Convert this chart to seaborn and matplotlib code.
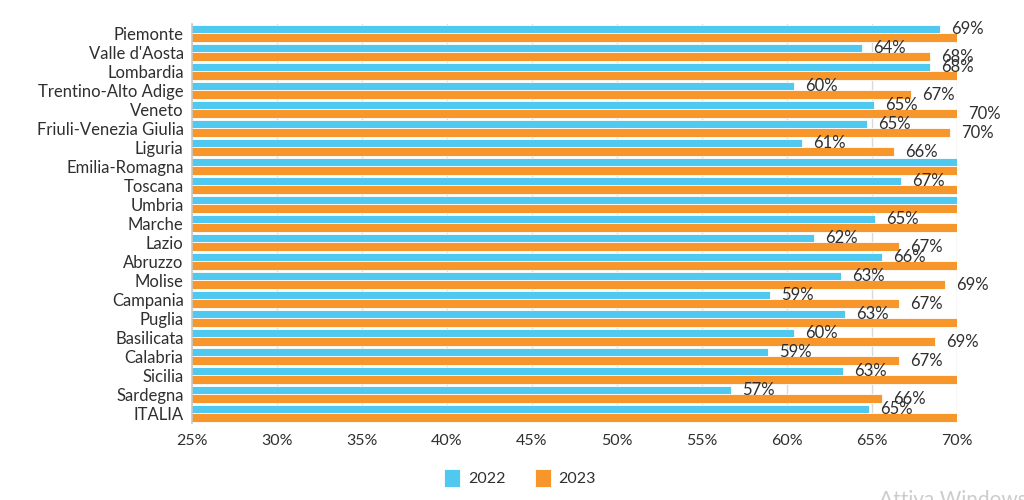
import matplotlib
matplotlib.use("Agg")
import matplotlib.pyplot as plt
import seaborn as sns
import pandas as pd

regions = ["Piemonte", "Valle d'Aosta", "Lombardia", "Trentino-Alto Adige", "Veneto",
           "Friuli-Venezia Giulia", "Liguria", "Emilia-Romagna", "Toscana", "Umbria",
           "Marche", "Lazio", "Abruzzo", "Molise", "Campania", "Puglia", "Basilicata",
           "Calabria", "Sicilia", "Sardegna", "ITALIA"]
values_2022 = [69.0, 64.4, 68.4, 60.4, 65.1, 64.7, 60.9, 72.0, 66.7, 71.0,
               65.2, 61.6, 65.6, 63.2, 59.0, 63.4, 60.4, 58.9, 63.3, 56.7, 64.8]
values_2023 = [72.5, 68.4, 73.8, 67.3, 70.0, 69.6, 66.3, 75.0, 72.7, 73.1,
               71.9, 66.6, 71.4, 69.3, 66.6, 71.6, 68.7, 66.6, 70.9, 65.6, 71.5]
years = ["2022", "2023"]
xticks = [25, 30, 35, 40, 45, 50, 55, 60, 65, 70]
xmin, xmax = 25, 70

BLUE = "#50C9F1"
ORANGE = "#F7962A"
TEXT = "#2f2f2f"

df = pd.DataFrame({
    "region": regions * 2,
    "value": values_2022 + values_2023,
    "year": [years[0]] * len(regions) + [years[1]] * len(regions),
})

sns.set_style("white")
plt.rcParams["font.family"] = ["Lato", "DejaVu Sans"]

fig = plt.figure(figsize=(10.24, 5.0), dpi=100)
ax = fig.add_axes([192 / 1024, 1 - 423 / 500, (957 - 192) / 1024, (423 - 24) / 500])

sns.barplot(data=df, x="value", y="region", hue="year", orient="h",
            palette=[BLUE, ORANGE], saturation=1, width=0.9,
            edgecolor="white", linewidth=0.6, ax=ax, legend=True)

ax.set_xlim(xmin, xmax)
ax.set_xticks(xticks)
ax.set_xticklabels([f"{t}%" for t in xticks], fontsize=11.5, color=TEXT)
ax.tick_params(axis="x", length=0, pad=8)
ax.tick_params(axis="y", length=0, pad=6, labelsize=12, labelcolor=TEXT)
ax.set_xlabel("")
ax.set_ylabel("")
ax.grid(axis="x", color="#d9d9d9", linewidth=1)
ax.set_axisbelow(True)
for s in ["top", "right", "bottom"]:
    ax.spines[s].set_visible(False)
ax.spines["left"].set_color("#c8c8c8")
ax.spines["left"].set_linewidth(1.2)

for cont, vals in zip(ax.containers, [values_2022, values_2023]):
    labels = [f"{round(v)}%" if v <= xmax + 0.2 else "" for v in vals]
    ax.bar_label(cont, labels=labels, padding=8, fontsize=12, color=TEXT, clip_on=False)

handles, labs = ax.get_legend_handles_labels()
ax.legend_.remove()
fig.legend(handles, labs, loc="center", bbox_to_anchor=(0.508, 0.044), ncol=2,
           frameon=False, fontsize=11.5, handlelength=1.0, handleheight=1.3,
           handletextpad=0.5, columnspacing=1.8, labelcolor=TEXT)

fig.text(0.858, 0.0, "Attiva Windows", color="#cccccc", fontsize=15, va="center", ha="left")

fig.savefig("out.png", dpi=100)
